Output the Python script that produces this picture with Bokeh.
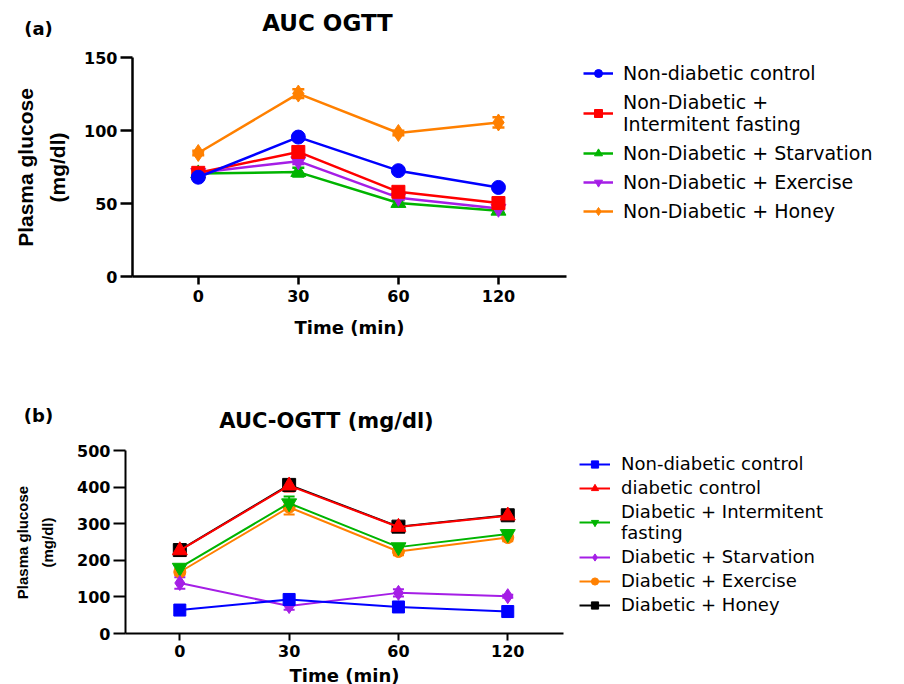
from bokeh.plotting import figure
from bokeh.models import (ColumnDataSource, Legend, LegendItem, Whisker,
                          TeeHead, FixedTicker, Range1d)
from bokeh.core.properties import value
from bokeh.layouts import column, row
from bokeh.embed import file_html
from bokeh.resources import INLINE

# ---------------- data ----------------
time_labels = ["0", "30", "60", "120"]

# panel (a)
a_title = "AUC OGTT"
a_names = ["Non-diabetic control", "Non-Diabetic +\nIntermitent fasting",
           "Non-Diabetic + Starvation", "Non-Diabetic + Exercise",
           "Non-Diabetic + Honey"]
a_blue = [68, 95.5, 72.5, 61]
a_red = [71, 85.3, 58, 50.3]
a_green = [70.5, 71.5, 50.3, 45]
a_purple = [71, 79, 54, 46.5]
a_orange = [84.6, 125.3, 98.3, 105.5]
a_blue_err = [1, 1.5, 1.5, 1.5]
a_red_err = [1, 2, 1.5, 1]
a_green_err = [1, 3, 2, 1.5]
a_purple_err = [1, 2, 1.5, 1]
a_orange_err = [1.5, 3, 1.5, 3.5]
a_yticks = [0, 50, 100, 150]

# panel (b)
b_title = "AUC-OGTT (mg/dl)"
b_names = ["Non-diabetic control", "diabetic control",
           "Diabetic + Intermitent\nfasting", "Diabetic + Starvation",
           "Diabetic + Exercise", "Diabetic + Honey"]
b_blue = [64, 93, 72.5, 60]
b_red = [227, 404, 291, 322]
b_green = [180, 356, 236, 272]
b_purple = [138, 75, 111, 102]
b_orange = [168, 345, 224, 262]
b_black = [228, 406, 292, 323]
b_blue_err = [3, 4, 3, 3]
b_red_err = [5, 16, 6, 6]
b_green_err = [6, 18, 8, 10]
b_purple_err = [16, 10, 10, 4]
b_orange_err = [8, 20, 10, 10]
b_black_err = [5, 8, 6, 6]
b_yticks = [0, 100, 200, 300, 400, 500]

BLUE = "#0000ff"
RED = "#ff0000"
GREEN = "#00b400"
PURPLE = "#a51ee6"
ORANGE = "#ff8000"
BLACK = "#000000"

TICK_FONT = "DejaVu Sans"
xs = list(range(len(time_labels)))
overrides = {i: t for i, t in enumerate(time_labels)}
W = 888
LEFT_W = 74


def style_axes(p, yticks, tick_size, lw, ytick_len, xtick_len, x_standoff, xl_standoff):
    p.xaxis.ticker = FixedTicker(ticks=xs)
    p.xaxis.major_label_overrides = overrides
    p.yaxis.ticker = FixedTicker(ticks=yticks)
    for ax in (p.xaxis[0], p.yaxis[0]):
        ax.axis_line_width = lw
        ax.major_tick_line_width = lw
        ax.minor_tick_line_color = None
        ax.major_tick_in = 0
        ax.major_label_text_font = TICK_FONT
        ax.major_label_text_font_style = "bold"
        ax.major_label_text_font_size = tick_size
        ax.major_label_text_color = "black"
        ax.axis_line_color = "black"
        ax.major_tick_line_color = "black"
    p.yaxis.major_tick_out = ytick_len
    p.xaxis.major_tick_out = xtick_len
    p.yaxis.major_label_standoff = 3
    p.xaxis.major_label_standoff = x_standoff
    p.xaxis.axis_label = "Time (min)"
    p.xaxis.axis_label_text_font = TICK_FONT
    p.xaxis.axis_label_text_font_style = "bold"
    p.xaxis.axis_label_text_font_size = "18px"
    p.xaxis.axis_label_text_color = "black"
    p.xaxis.axis_label_standoff = xl_standoff
    p.grid.visible = False
    p.outline_line_color = None


def add_series(p, y, err, color, marker, size, lw, cap):
    src = ColumnDataSource(dict(x=xs, y=y,
                                upper=[v + e for v, e in zip(y, err)],
                                lower=[v - e for v, e in zip(y, err)]))
    w = Whisker(source=src, base="x", upper="upper", lower="lower",
                line_color=color, line_width=lw,
                upper_head=TeeHead(size=cap, line_color=color, line_width=lw),
                lower_head=TeeHead(size=cap, line_color=color, line_width=lw))
    p.add_layout(w)
    lr = p.line("x", "y", source=src, line_color=color, line_width=lw)
    sr = p.scatter("x", "y", source=src, marker=marker, size=size,
                   fill_color=color, line_color=color)
    return [lr, sr]


def text_box(width, y0, y1, items):
    """A blank figure whose frame covers a rectangle of the page; y runs
    downward in page pixels so texts can be placed like in the image."""
    f = figure(frame_width=width, frame_height=y1 - y0, min_border=0,
               x_range=Range1d(0, width), y_range=Range1d(y1, y0),
               x_axis_type=None, y_axis_type=None,
               output_backend="svg", toolbar_location=None)
    f.outline_line_color = None
    f.grid.visible = False
    for (tx, ty, txt, font, size, ang) in items:
        f.text(x=[tx], y=[ty], text=[txt], angle=ang,
               text_font=value(font), text_font_style="bold",
               text_font_size=size, text_align="center",
               text_baseline="middle", text_color="black")
    return f


def side_texts(top, frame_top, frame_bot, bottom, items):
    f = text_box(LEFT_W, frame_top, frame_bot, items)
    f.min_border_top = top
    f.min_border_bottom = bottom
    return f


# ---------------- panel (a) ----------------
HA = 44                     # header height
A_TOP, A_H, A_BOT = 57 - HA, 219, 102
head_a = text_box(W, 0, HA, [
    (38, 28, "(a)", "DejaVu Sans", "18px", 0),
    (327, 22, a_title, "DejaVu Sans", "23px", 0),
])

pa = figure(frame_width=434, frame_height=A_H, min_border_left=132 - LEFT_W,
            min_border_top=A_TOP, min_border_bottom=A_BOT,
            min_border_right=W - 132 - 434,
            x_range=Range1d(-0.657, 3.68), y_range=Range1d(0, 150),
            output_backend="svg", toolbar_location=None)
style_axes(pa, a_yticks, "16px", 2.5, 12, 8, 5, 12)

ra = {}
ra["green"] = add_series(pa, a_green, a_green_err, GREEN, "triangle", 15, 2.5, 12)
ra["purple"] = add_series(pa, a_purple, a_purple_err, PURPLE, "inverted_triangle", 15, 2.5, 12)
ra["red"] = add_series(pa, a_red, a_red_err, RED, "square", 13, 2.5, 12)
ra["orange"] = add_series(pa, a_orange, a_orange_err, ORANGE, "diamond", 17, 2.5, 12)
ra["blue"] = add_series(pa, a_blue, a_blue_err, BLUE, "circle", 14, 2.5, 12)

leg_a = Legend(items=[LegendItem(label=a_names[0], renderers=ra["blue"]),
                      LegendItem(label=a_names[1], renderers=ra["red"]),
                      LegendItem(label=a_names[2], renderers=ra["green"]),
                      LegendItem(label=a_names[3], renderers=ra["purple"]),
                      LegendItem(label=a_names[4], renderers=ra["orange"])],
               location=(17, 54), padding=0, margin=17, spacing=7,
               glyph_width=30, glyph_height=20, label_height=20,
               label_standoff=10, label_text_font="DejaVu Sans",
               label_text_font_size="19px", label_text_color="black",
               border_line_color=None, background_fill_alpha=0)
pa.add_layout(leg_a, "right")

la = side_texts(A_TOP, 57, 276, A_BOT, [
    (25, 167, "Plasma glucose", "Liberation Sans", "21px", 1.5708),
    (57, 167, "(mg/dl)", "Liberation Sans", "21px", 1.5708),
])

# ---------------- panel (b) ----------------
HB = 60
B_TOP, B_H, B_BOT = 450 - 378 - HB, 183, 51
head_b = text_box(W, 378, 378 + HB, [
    (38, 415, "(b)", "DejaVu Sans", "18px", 0),
    (326, 420, b_title, "DejaVu Sans", "21px", 0),
])

pb = figure(frame_width=438, frame_height=B_H, min_border_left=123 - LEFT_W,
            min_border_top=B_TOP, min_border_bottom=B_BOT,
            min_border_right=W - 123 - 438,
            x_range=Range1d(-0.497, 3.51), y_range=Range1d(0, 500),
            output_backend="svg", toolbar_location=None)
style_axes(pb, b_yticks, "16px", 2, 12, 7, 4, 5)

rb = {}
rb["black"] = add_series(pb, b_black, b_black_err, BLACK, "square", 13, 2, 11)
rb["orange"] = add_series(pb, b_orange, b_orange_err, ORANGE, "circle", 12, 2, 11)
rb["green"] = add_series(pb, b_green, b_green_err, GREEN, "inverted_triangle", 15, 2, 11)
rb["purple"] = add_series(pb, b_purple, b_purple_err, PURPLE, "diamond", 15, 2, 11)
rb["blue"] = add_series(pb, b_blue, b_blue_err, BLUE, "square", 12, 2, 11)
rb["red"] = add_series(pb, b_red, b_red_err, RED, "triangle", 15, 2, 11)

leg_b = Legend(items=[LegendItem(label=b_names[0], renderers=rb["blue"]),
                      LegendItem(label=b_names[1], renderers=rb["red"]),
                      LegendItem(label=b_names[2], renderers=rb["green"]),
                      LegendItem(label=b_names[3], renderers=rb["purple"]),
                      LegendItem(label=b_names[4], renderers=rb["orange"]),
                      LegendItem(label=b_names[5], renderers=rb["black"])],
               location=(16, 18), padding=0, margin=16, spacing=3,
               glyph_width=31, glyph_height=18, label_height=18,
               label_standoff=11, label_text_font="DejaVu Sans",
               label_text_font_size="18px", label_text_color="black",
               border_line_color=None, background_fill_alpha=0)
pb.add_layout(leg_b, "right")

lb = side_texts(B_TOP, 450, 633, B_BOT, [
    (22, 542, "Plasma glucose", "Liberation Sans", "15px", 1.5708),
    (47, 542, "(mg/dl)", "Liberation Sans", "15px", 1.5708),
])

layout = column(head_a, row(la, pa, spacing=0),
                head_b, row(lb, pb, spacing=0), spacing=0)
open("out.html", "w").write(file_html(layout, INLINE))
